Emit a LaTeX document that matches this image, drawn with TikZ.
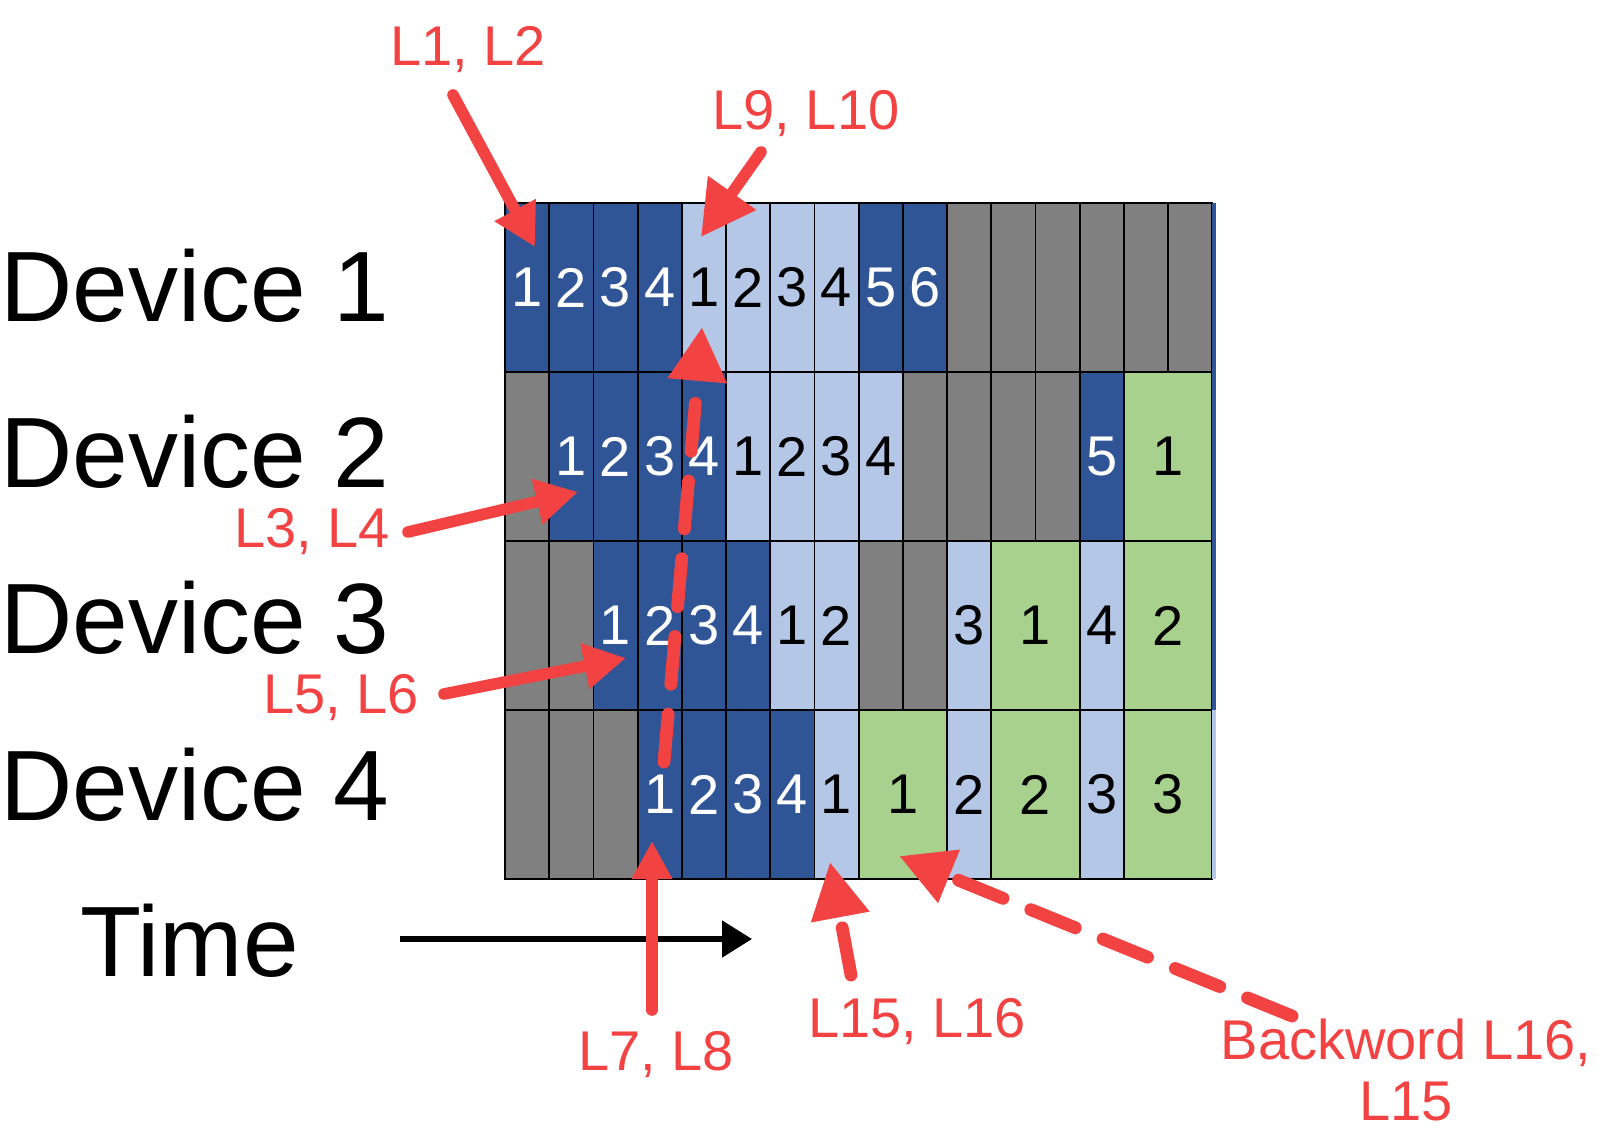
\documentclass[tikz,border=0pt]{standalone}
\usepackage{fontspec}
\setmainfont{Liberation Sans}
\usepackage{tikz}
\usetikzlibrary{arrows.meta, positioning}

\definecolor{fwdA}{RGB}{47,85,151}
\definecolor{fwdB}{RGB}{180,199,231}
\definecolor{idleC}{RGB}{128,128,128}
\definecolor{bwdC}{RGB}{169,209,142}
\definecolor{annot}{RGB}{242,66,66}

\begin{document}
\begin{tikzpicture}[x=0.5pt, y=-0.5pt]
    % Define styles
    \tikzset{
        cell/.style={draw=black, line width=0.9pt, minimum width=#1*22.1pt, minimum height=84.5pt,
                     inner sep=0pt, outer sep=0pt, font=\fontsize{28}{30}\selectfont},
        cell/.default=1,
        fa/.style={fill=fwdA, text=white},
        fb/.style={fill=fwdB},
        idle/.style={fill=idleC},
        bw/.style={fill=bwdC},
        devlbl/.style={inner sep=0pt, anchor=base west, font=\fontsize{50}{60}\selectfont},
        lbl/.style={inner sep=0pt, text=annot, font=\fontsize{28}{30.5}\selectfont},
        hit/.style={draw=annot, line width=5.8pt, line cap=round, -{Triangle[length=21pt, width=22pt]}},
        hitdash/.style={hit, line width=6.4pt, dash pattern=on 24pt off 15pt}
    }
    \useasboundingbox (0,0) rectangle (1618,1138);

    % Pipeline schedule: column/span/kind/micro-batch
    \foreach \c/\s/\k/\t in {1/1/fa/1, 2/1/fa/2, 3/1/fa/3, 4/1/fa/4, 5/1/fb/1, 6/1/fb/2, 7/1/fb/3, 8/1/fb/4,
                              9/1/fa/5, 10/1/fa/6, 11/1/idle/{}, 12/1/idle/{}, 13/1/idle/{}, 14/1/idle/{},
                              15/1/idle/{}, 16/1/idle/{}}
        \node[cell=\s, \k] (d1-\c) at ({505+44.2*(\c-1+\s/2)}, 287.5) {\t};
    \foreach \c/\s/\k/\t in {1/1/idle/{}, 2/1/fa/1, 3/1/fa/2, 4/1/fa/3, 5/1/fa/4, 6/1/fb/1, 7/1/fb/2, 8/1/fb/3,
                              9/1/fb/4, 10/1/idle/{}, 11/1/idle/{}, 12/1/idle/{}, 13/1/idle/{}, 14/1/fa/5, 15/2/bw/1}
        \node[cell=\s, \k] (d2-\c) at ({505+44.2*(\c-1+\s/2)}, 456.5) {\t};
    \foreach \c/\s/\k/\t in {1/1/idle/{}, 2/1/idle/{}, 3/1/fa/1, 4/1/fa/2, 5/1/fa/3, 6/1/fa/4, 7/1/fb/1, 8/1/fb/2,
                              9/1/idle/{}, 10/1/idle/{}, 11/1/fb/3, 12/2/bw/1, 14/1/fb/4, 15/2/bw/2}
        \node[cell=\s, \k] (d3-\c) at ({505+44.2*(\c-1+\s/2)}, 625.5) {\t};
    \foreach \c/\s/\k/\t in {1/1/idle/{}, 2/1/idle/{}, 3/1/idle/{}, 4/1/fa/1, 5/1/fa/2, 6/1/fa/3, 7/1/fa/4,
                              8/1/fb/1, 9/2/bw/1, 11/1/fb/2, 12/2/bw/2, 14/1/fb/3, 15/2/bw/3}
        \node[cell=\s, \k] (d4-\c) at ({505+44.2*(\c-1+\s/2)}, 794.5) {\t};

    % Cut-off next column
    \fill[fwdA] (d1-16.north east) rectangle ([xshift=2pt]d3-15.south east);
    \fill[fwdB] (d4-15.north east) rectangle ([xshift=2pt]d4-15.south east);

    % Device labels
    \node[devlbl] (dev1) at (0,322) {Device 1};
    \node[devlbl] (dev2) at (0,488) {Device 2};
    \node[devlbl] (dev3) at (0,654) {Device 3};
    \node[devlbl] (dev4) at (0,820) {Device 4};

    % Time axis
    \node[devlbl] (time) at (80,976) {Time};
    \coordinate (t0) at (400,939);
    \coordinate (t1) at (752,939);
    \draw[line width=2.6pt, -{Triangle[length=15pt, width=18pt]}] (t0) -- (t1);

    % Layer annotations
    \node[lbl] (l12) at (468,50) {L1, L2};
    \node[lbl] (l910) at (806,114) {L9, L10};
    \node[lbl] (l34) at (312,532) {L3, L4};
    \node[lbl] (l56) at (341,698) {L5, L6};
    \node[lbl] (l78) at (656,1055) {L7, L8};
    \node[lbl] (l1516) at (917,1022) {L15, L16};
    \node[lbl, align=center] (lbw) at (1406,1070) {Backword L16,\\L15};

    \coordinate (a12) at (453,95);   \coordinate (h12) at (535,247);
    \coordinate (a910) at (761,152); \coordinate (h910) at (701,237);
    \coordinate (a34) at (408,532);  \coordinate (h34) at (578,492);
    \coordinate (a56) at (444,694);  \coordinate (h56) at (626,658);
    \coordinate (a78) at (652,1010); \coordinate (h78) at (652,841);
    \coordinate (a1516) at (851,975); \coordinate (h1516) at (830,862);
    \coordinate (abw) at (1292,1016); \coordinate (hbw) at (899,856);
    \coordinate (aup) at (664,762);  \coordinate (hup) at (702,327);

    \draw[hit] (a12) -- (h12);
    \draw[hit, -{Triangle[length=27pt, width=28pt]}] (a910) -- (h910);
    \draw[hit] (a34) -- (h34);
    \draw[hit] (a56) -- (h56);
    \draw[hit, -{Triangle[length=19pt, width=19pt]}] (a78) -- (h78);
    \draw[hitdash, -{Triangle[length=28pt, width=28pt]}] (a1516) -- (h1516);
    \draw[hitdash, -{Triangle[length=27pt, width=27pt]}] (abw) -- (hbw);
    \draw[hitdash, -{Triangle[length=27pt, width=28pt]}] (aup) -- (hup);
\end{tikzpicture}
\end{document}
